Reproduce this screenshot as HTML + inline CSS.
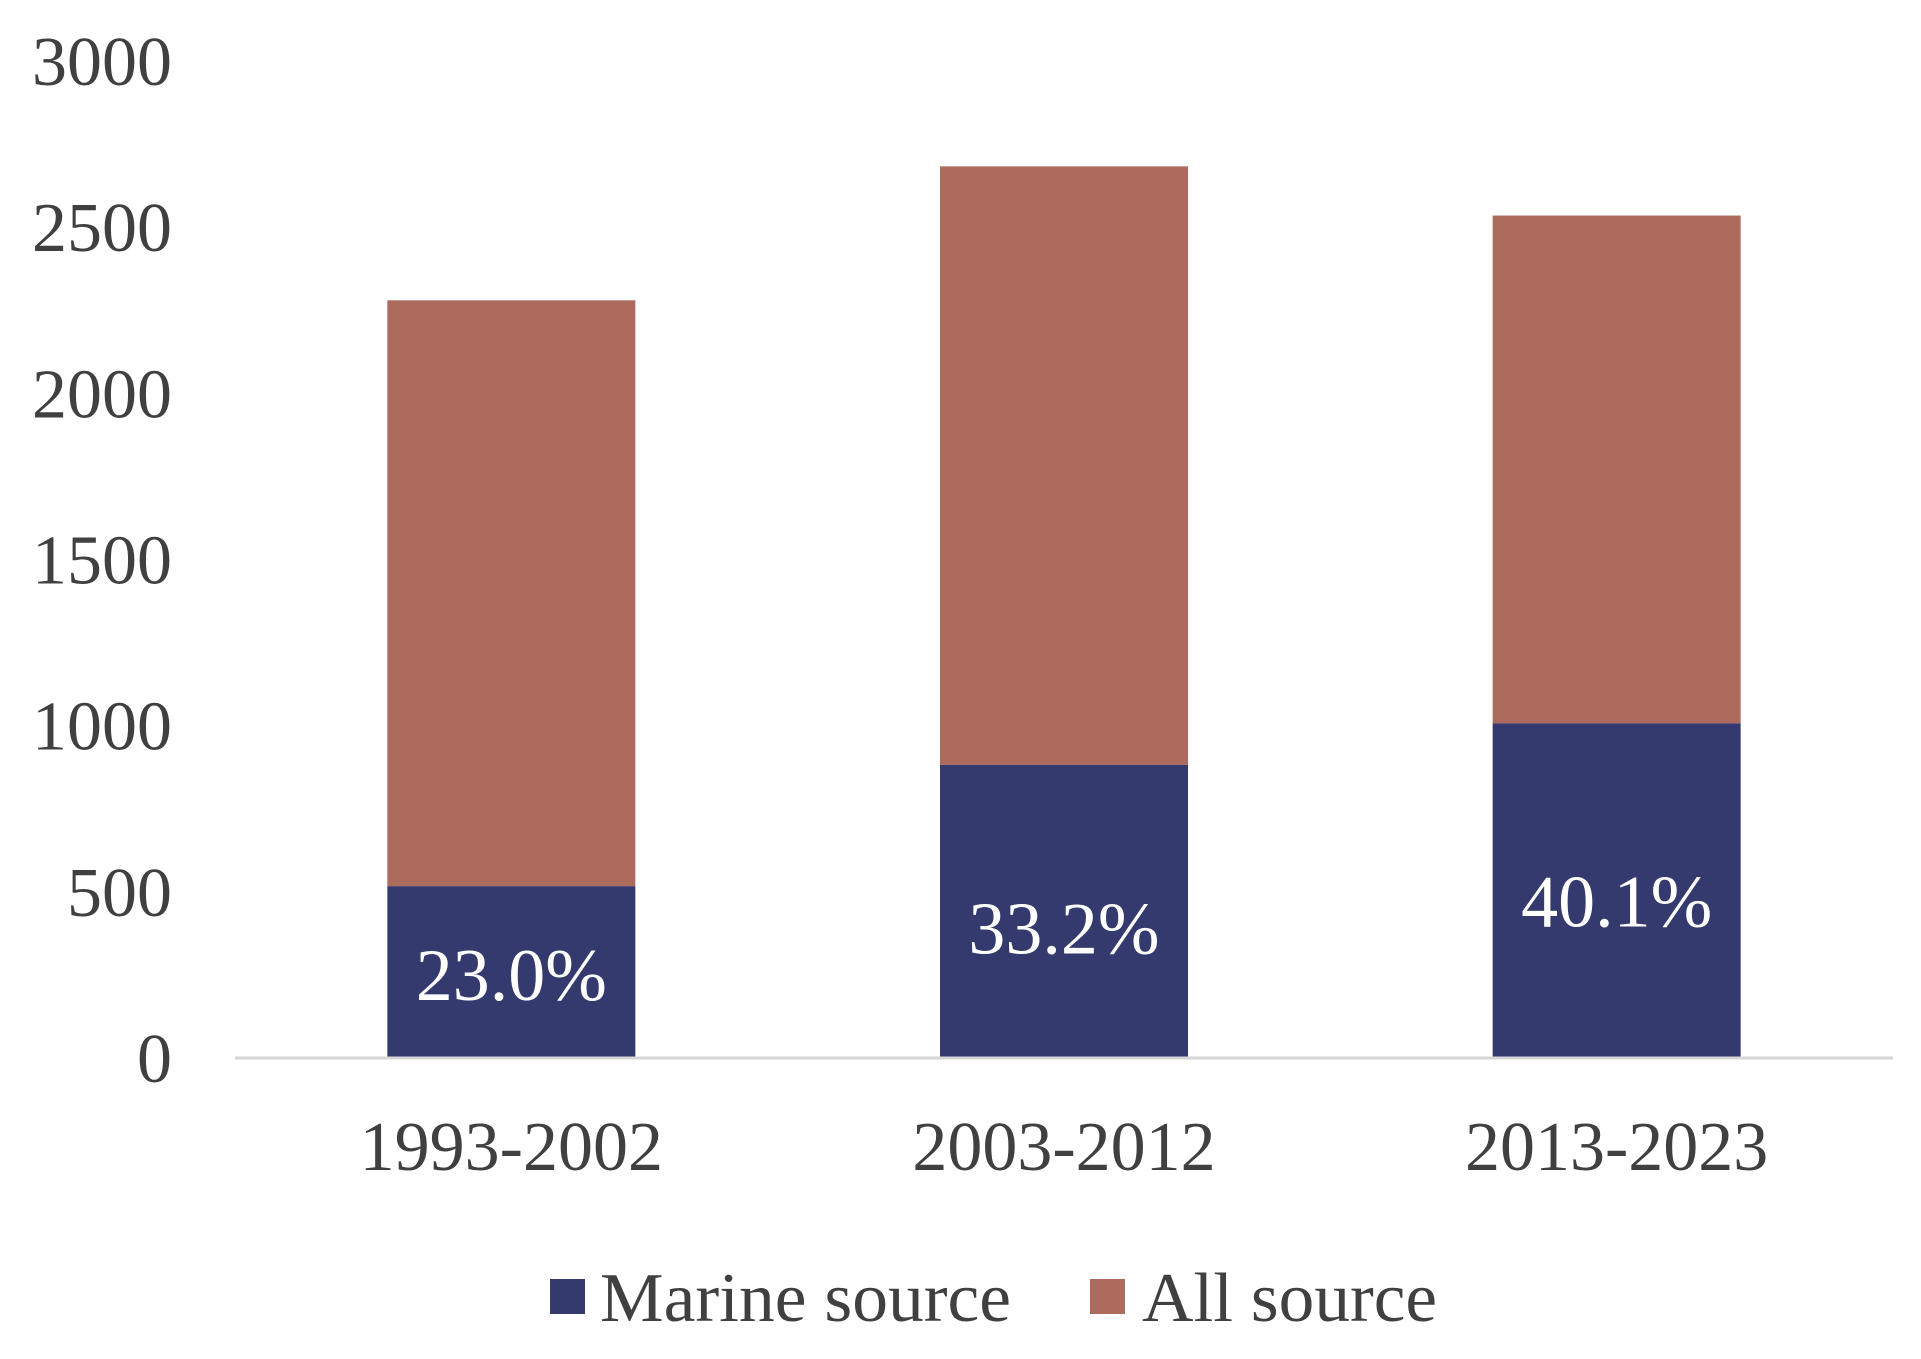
<!DOCTYPE html>
<html><head><meta charset="utf-8"><style>html,body{margin:0;padding:0;background:#fff}svg{display:block}</style></head>
<body>
<svg id="chart" width="1921" height="1359" viewBox="0 0 1921 1359" xmlns="http://www.w3.org/2000/svg" font-family="Liberation Serif, serif">
<g id="yticks"></g>
<g id="bars"></g>
<line x1="235" y1="1058" x2="1893" y2="1058" stroke="#d6d6d6" stroke-width="3"/>
<g id="xlabels"></g>
<g>
<rect x="550" y="1279" width="35" height="35" fill="#343a6e"/>
<text x="600" y="1321" font-size="70" fill="#404040" textLength="411" lengthAdjust="spacingAndGlyphs">Marine source</text>
<rect x="1090" y="1279" width="35" height="35" fill="#ad6b5e"/>
<text x="1142" y="1321" font-size="70" fill="#404040" textLength="295" lengthAdjust="spacingAndGlyphs">All source</text>
</g>
</svg>
<script>
const categories = ["1993-2002","2003-2012","2013-2023"];
const marine = [517, 882, 1007];
const allSource = [2280, 2683, 2535];
const pctLabels = ["23.0%","33.2%","40.1%"];
const yTicks = [0,500,1000,1500,2000,2500,3000];
const NS='http://www.w3.org/2000/svg';
const y0=1058, yTop=61, yMax=3000;
const y = v => y0 - v/yMax*(y0-yTop);
const plotL=235, plotR=1893, band=(plotR-plotL)/categories.length, bw=248;
const xc = i => plotL + band*(i+0.5);
function mk(tag, attrs, parent){const e=document.createElementNS(NS,tag);for(const k in attrs)e.setAttribute(k,attrs[k]);parent.appendChild(e);return e;}
const yt=document.getElementById('yticks');
yTicks.forEach(t=>{const e=mk('text',{x:172,y:y(t)+24,'text-anchor':'end','font-size':70,fill:'#404040'},yt);


e.textContent=t;});
const bg=document.getElementById('bars'), xl=document.getElementById('xlabels');
categories.forEach((c,i)=>{
 const x=xc(i)-bw/2;
 const r1=mk('rect',{x:x,y:y(allSource[i]),width:bw,height:y(marine[i])-y(allSource[i]),fill:'#ad6b5e'},bg);
 
 
 const r2=mk('rect',{x:x,y:y(marine[i]),width:bw,height:y0-y(marine[i]),fill:'#343a6e'},bg);
 
 
 const p=mk('text',{x:xc(i),y:(y(marine[i])+y0)/2+(i==0?28:i==1?42:36),'text-anchor':'middle','font-size':74,fill:'#ffffff'},bg);
 
 
 p.textContent=pctLabels[i];
 const l=mk('text',{x:xc(i),y:1170,'text-anchor':'middle','font-size':70,fill:'#404040'},xl);
 
 
 l.textContent=c;
});
</script>
</body></html>
